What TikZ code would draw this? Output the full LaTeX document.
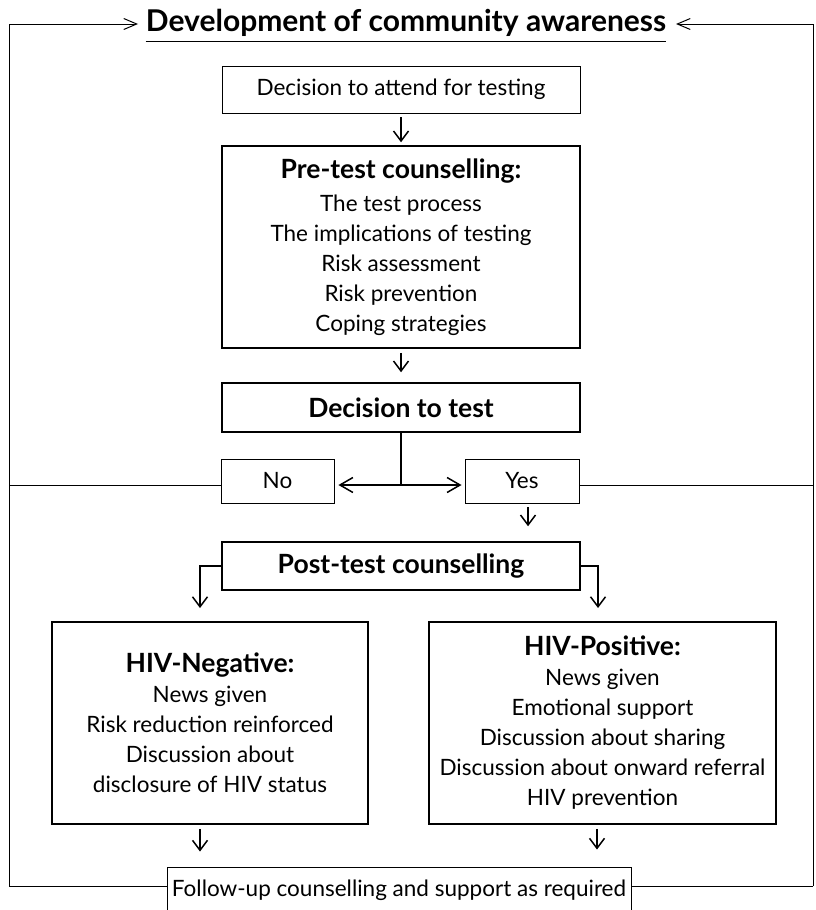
\documentclass[tikz,border=0pt]{standalone}
\usepackage{fontspec}
\setmainfont{Lato}
\usetikzlibrary{arrows.meta}

\newcommand{\hdtext}[1]{{\bfseries\fontsize{26.5}{30}\selectfont #1}}

\begin{document}
\begin{tikzpicture}[x=1pt,y=-1pt,
    every node/.style={font=\fontsize{22.5}{30}\selectfont, align=center, inner sep=0pt},
    thinbox/.style={draw, line width=0.9pt},
    thickbox/.style={draw, line width=1.5pt},
    arr/.style={line width=1.5pt, -{Straight Barb[length=10pt,width=15pt]}},
    loopline/.style={line width=1pt}]
  \useasboundingbox (0,0) rectangle (815,910);

  % heading
  \node[anchor=base, font=\bfseries\fontsize{30}{30}\selectfont] (title) at (406,31)
    {Development of community awareness};
  \draw[line width=1.2pt] ([yshift=-5pt]title.south west) -- ([yshift=-5pt]title.south east);

  % boxes
  \node[thinbox, minimum width=358pt, minimum height=47pt] (attend) at (401,89.5)
    {Decision to attend for testing};
  \node[thickbox, minimum width=358pt, minimum height=202pt] (pretest) at (401,247)
    {\hdtext{Pre-test counselling:}\\[3pt]
     The test process\\ The implications of testing\\ Risk assessment\\
     Risk prevention\\ Coping strategies};
  \node[thickbox, minimum width=358pt, minimum height=49pt, font=\bfseries\fontsize{26.5}{30}\selectfont] (dtest) at (401,407.5)
    {Decision to test};
  \node[thinbox, minimum width=113pt, minimum height=44pt] (no) at (277.5,481) {No};
  \node[thinbox, minimum width=114pt, minimum height=44pt] (yes) at (522,481) {Yes};
  \node[thickbox, minimum width=358pt, minimum height=48pt, font=\bfseries\fontsize{26.5}{30}\selectfont] (post) at (401,566)
    {Post-test counselling};
  \node[thickbox, minimum width=316pt, minimum height=202pt] (neg) at (210,723)
    {\hdtext{HIV-Negative:}\\
     News given\\ Risk reduction reinforced\\ Discussion about\\ disclosure of HIV status};
  \node[thickbox, minimum width=347pt, minimum height=202pt] (pos) at (602.5,723)
    {\hdtext{HIV-Positive:}\\
     News given\\ Emotional support\\ Discussion about sharing\\
     Discussion about onward referral\\ HIV prevention};
  \node[thinbox, minimum width=464pt, minimum height=46pt] (follow) at (399,890)
    {Follow-up counselling and support as required};

  % outer loop
  \coordinate (tl) at (9,24);
  \coordinate (tr) at (813,24);
  \coordinate (bl) at (9,886);
  \coordinate (br) at (813,886);
  \coordinate (tin) at (138,24);
  \coordinate (tout) at (676,24);
  \coordinate (mid) at (398,485);
  \draw[loopline, -{Straight Barb[length=13pt,width=11pt]}] (bl) -- (tl) -- (tin);
  \draw[loopline, -{Straight Barb[length=13pt,width=11pt]}] (br) -- (tr) -- (tout);
  \draw[loopline] (bl) -- (follow.west |- bl);
  \draw[loopline] (br) -- (follow.east |- br);
  \draw[loopline] (bl |- mid) -- (no.west |- mid);
  \draw[loopline] (br |- mid) -- (yes.east |- mid);

  % flow
  \coordinate (negin) at (200,608);
  \coordinate (posin) at (598,608);
  \draw[arr, shorten <=4pt, shorten >=3pt] (attend.south) -- (pretest.north);
  \draw[arr, shorten <=4pt, shorten >=10pt] (pretest.south) -- (dtest.north);
  \draw[line width=1.5pt] (dtest.south) -- (dtest.south |- mid);
  \draw[line width=1.5pt, {Straight Barb[length=13pt,width=15pt]}-{Straight Barb[length=13pt,width=15pt]},
        shorten <=4pt, shorten >=3pt] (no.east |- mid) -- (yes.west |- mid);
  \draw[arr, shorten <=4pt, shorten >=15pt] ([xshift=6pt]yes.south) -- ([xshift=6pt]yes.south |- post.north);
  \draw[arr] (post.west) -| (negin);
  \draw[arr] (post.east) -| (posin);
  \draw[arr, shorten <=4pt, shorten >=15pt] ([xshift=-10pt]neg.south) -- ([xshift=-10pt]neg.south |- follow.north);
  \draw[arr, shorten <=4pt, shorten >=17pt] ([xshift=-5.5pt]pos.south) -- ([xshift=-5.5pt]pos.south |- follow.north);
\end{tikzpicture}
\end{document}
